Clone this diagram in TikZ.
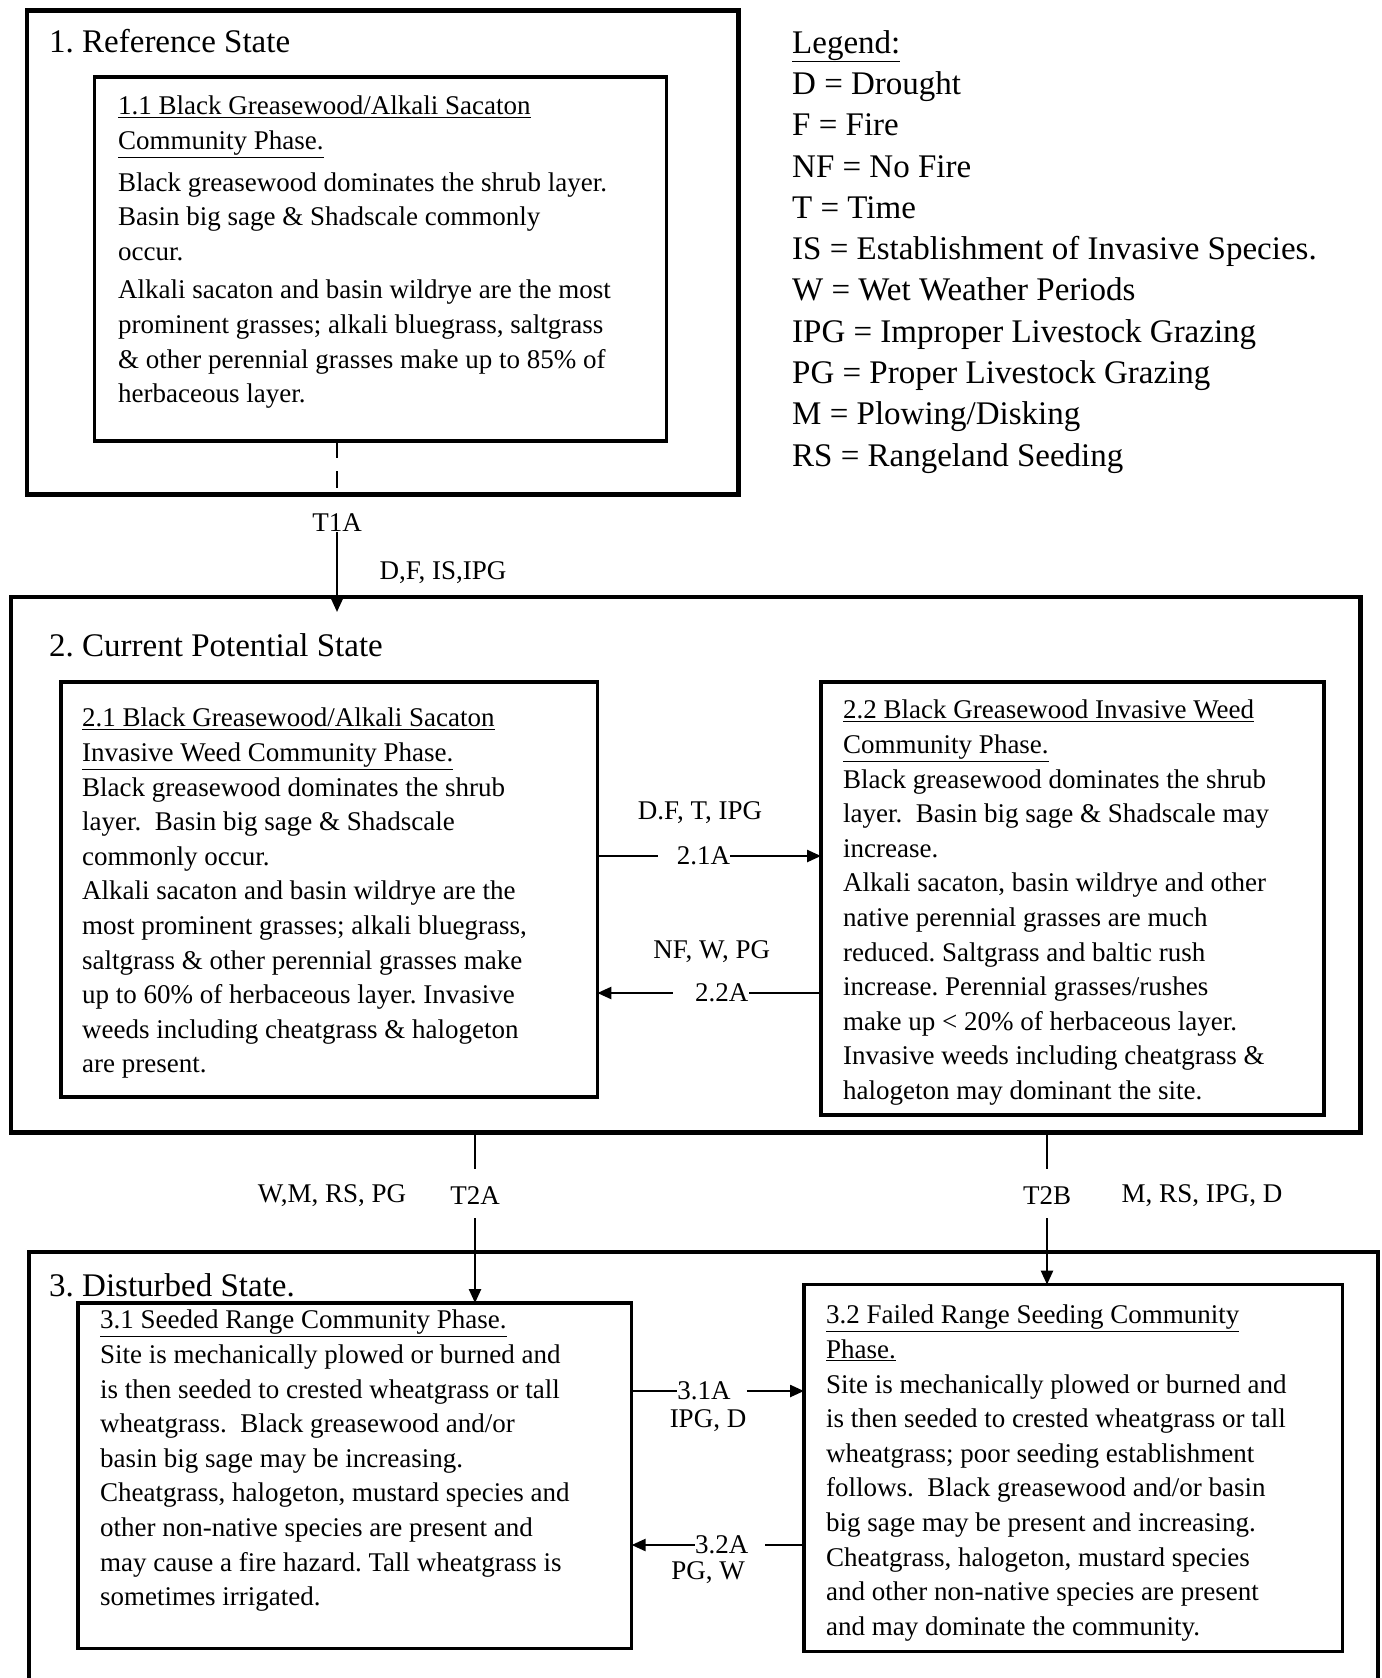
\documentclass[tikz,border=0pt]{standalone}
\usepackage{fontspec}
\setmainfont{Liberation Serif}
\usetikzlibrary{arrows.meta,calc}
\frenchspacing
\begin{document}
\begin{tikzpicture}[x=1pt,y=-1pt,
  outerbox/.style={draw, line width=4.5pt, inner sep=0pt, outer sep=0pt},
  phasebox/.style={draw, line width=3.2pt, inner sep=0pt, outer sep=0pt},
  bodytext/.style={font=\fontsize{27}{34.6}\selectfont, align=left, anchor=north west, inner sep=0pt},
  headtext/.style={font=\fontsize{33}{40}\selectfont, anchor=west, inner sep=0pt},
  legtext/.style={font=\fontsize{33}{41.3}\selectfont, align=left, anchor=north west, inner sep=0pt},
  lbl/.style={font=\fontsize{27}{32}\selectfont, inner sep=0pt},
  conn/.style={line width=2.4pt},
  arr/.style={line width=2.4pt, -{Triangle[length=14pt,width=12pt]}}]
\useasboundingbox (0,0) rectangle (1381,1678);
\clip (0,0) rectangle (1381,1678);

% state boxes
\node[outerbox, minimum width=711.8pt, minimum height=483.9pt] (s1) at (382.7,252.65) {};
\node[outerbox, minimum width=1349.9pt, minimum height=535.6pt] (s2) at (685.7,864.8) {};
\node[outerbox, minimum width=1349pt, minimum height=520pt] (s3) at (703.5,1512) {};

% phase boxes
\node[phasebox, minimum width=572.7pt, minimum height=364pt] (b11) at (380.5,259) {};
\node[phasebox, minimum width=536.3pt, minimum height=415pt] (b21) at (329.2,889.5) {};
\node[phasebox, minimum width=503pt, minimum height=433pt] (b22) at (1072.5,898.5) {};
\node[phasebox, minimum width=553.6pt, minimum height=345.6pt] (b31) at (354.8,1475.8) {};
\node[phasebox, minimum width=538.4pt, minimum height=367.2pt] (b32) at (1073.2,1468.2) {};

% headings
\node[headtext] (h1) at (49,41) {1. Reference State};
\node[headtext] (h2) at (49,645) {2. Current Potential State};
\node[headtext] (h3) at (49,1285) {3. Disturbed State.};

% legend
\node[legtext] (leg) at (792,30) {\underline{Legend:}\\
D = Drought\\
F = Fire\\
NF = No Fire\\
T = Time\\
IS = Establishment of Invasive Species.\\
W = Wet Weather Periods\\
IPG = Improper Livestock Grazing\\
PG = Proper Livestock Grazing\\
M = Plowing/Disking\\
RS = Rangeland Seeding};

% phase texts
\node[bodytext] (t11) at (118,96) {\underline{1.1 Black Greasewood/Alkali Sacaton}\\
\underline{Community Phase.}\\[7pt]
Black greasewood dominates the shrub layer.\\
Basin big sage \& Shadscale commonly\\
occur.\\[4pt]
Alkali sacaton and basin wildrye are the most\\
prominent grasses; alkali bluegrass, saltgrass\\
\& other perennial grasses make up to 85\% of\\
herbaceous layer.};

\node[bodytext] (t21) at (82,708) {\underline{2.1 Black Greasewood/Alkali Sacaton}\\
\underline{Invasive Weed Community Phase.}\\
Black greasewood dominates the shrub\\
layer.\ \ Basin big sage \& Shadscale\\
commonly occur.\\
Alkali sacaton and basin wildrye are the\\
most prominent grasses; alkali bluegrass,\\
saltgrass \& other perennial grasses make\\
up to 60\% of herbaceous layer. Invasive\\
weeds including cheatgrass \& halogeton\\
are present.};

\node[bodytext] (t22) at (843,700) {\underline{2.2 Black Greasewood Invasive Weed}\\
\underline{Community Phase.}\\
Black greasewood dominates the shrub\\
layer.\ \ Basin big sage \& Shadscale may\\
increase.\\
Alkali sacaton, basin wildrye and other\\
native perennial grasses are much\\
reduced. Saltgrass and baltic rush\\
increase. Perennial grasses/rushes\\
make up < 20\% of herbaceous layer.\\
Invasive weeds including cheatgrass \&\\
halogeton may dominant the site.};

\node[bodytext] (t31) at (100,1310) {\underline{3.1 Seeded Range Community Phase.}\\
Site is mechanically plowed or burned and\\
is then seeded to crested wheatgrass or tall\\
wheatgrass.\ \ Black greasewood and/or\\
basin big sage may be increasing.\\
Cheatgrass, halogeton, mustard species and\\
other non-native species are present and\\
may cause a fire hazard. Tall wheatgrass is\\
sometimes irrigated.};

\node[bodytext] (t32) at (826,1305) {\underline{3.2 Failed Range Seeding Community}\\
\underline{Phase.}\\
Site is mechanically plowed or burned and\\
is then seeded to crested wheatgrass or tall\\
wheatgrass; poor seeding establishment\\
follows.\ \ Black greasewood and/or basin\\
big sage may be present and increasing.\\
Cheatgrass, halogeton, mustard species\\
and other non-native species are present\\
and may dominate the community.};

% transition labels
\node[lbl] (t1a) at (337,523) {T1A};
\node[lbl] (dfis) at (443,573) {D,F, IS,IPG};
\node[lbl] (l21) at (703.5,856) {2.1A};
\node[lbl] (dft) at (700,813) {D.F, T, IPG};
\node[lbl] (l22) at (721.7,993) {2.2A};
\node[lbl] (nfw) at (711.7,952) {NF, W, PG};
\node[lbl] (t2a) at (475,1196) {T2A};
\node[lbl] (wm) at (332,1196) {W,M, RS, PG};
\node[lbl] (t2b) at (1047,1196) {T2B};
\node[lbl] (mrs) at (1202,1196) {M, RS, IPG, D};
\node[lbl] (l31) at (704,1391) {3.1A};
\node[lbl] (ipgd) at (708,1421) {IPG, D};
\node[lbl] (l32) at (721.7,1545) {3.2A};
\node[lbl] (pgw) at (708,1573) {PG, W};

% connectors
\draw[conn, dash pattern=on 17pt off 13pt] (t1a |- b11.south) -- (t1a |- s1.south);
\draw[arr] (t1a.south) -- ($(t1a |- s2.north)+(0,15)$);

\draw[conn] (l21 -| b21.east) -- ($(l21.west)+(-19,0)$);
\draw[arr] (l21.east) -- (l21 -| b22.west);

\draw[conn] (l22 -| b22.west) -- (l22.east);
\draw[arr] ($(l22.west)+(-22,0)$) -- (l22 -| b21.east);

\draw[conn] (t2a |- s2.south) -- ($(t2a.north)+(0,-18)$);
\draw[arr] ($(t2a.south)+(0,13)$) -- (t2a |- b31.north);

\draw[conn] (t2b |- s2.south) -- ($(t2b.north)+(0,-18)$);
\draw[arr] ($(t2b.south)+(0,13)$) -- (t2b |- b32.north);

\draw[conn] (l31 -| b31.east) -- (l31.west);
\draw[arr] ($(l31.east)+(16,0)$) -- (l31 -| b32.west);

\draw[conn] (l32 -| b32.west) -- ($(l32.east)+(16,0)$);
\draw[arr] (l32.west) -- (l32 -| b31.east);
\end{tikzpicture}
\end{document}
